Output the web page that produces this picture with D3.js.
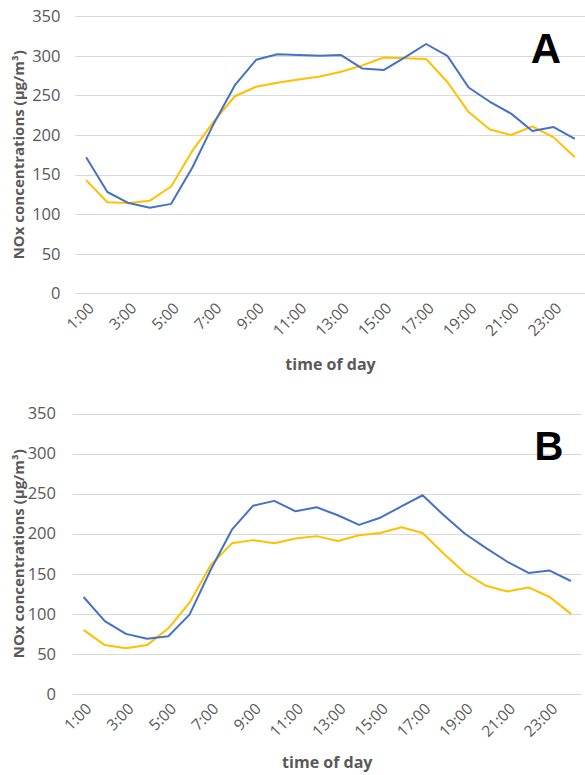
<!DOCTYPE html>
<html lang="en">
<head>
    <meta charset="UTF-8">
    <title>NOx diurnal profiles</title>
    <script src="https://d3js.org/d3.v7.min.js"></script>
    <style>
        body { margin: 0; padding: 0; background: #fff; }
        svg { display: block; }
        .tick-label { font-family: "Open Sans", sans-serif; fill: #595959; }
        .axis-title { font-family: "Open Sans", sans-serif; font-weight: bold; fill: #595959; font-size: 15px; }
        .panel-letter { font-family: "Liberation Sans", Arial, sans-serif; font-weight: bold; fill: #000; }
    </style>
</head>
<body>
<svg id="chart" width="585" height="775"></svg>
<script>
    // hours of the day (categories)
    const hours = ["1:00","2:00","3:00","4:00","5:00","6:00","7:00","8:00","9:00","10:00","11:00","12:00",
                   "13:00","14:00","15:00","16:00","17:00","18:00","19:00","20:00","21:00","22:00","23:00","24:00"];
    // only every other hour gets a label
    const hourLabels = ["1:00","3:00","5:00","7:00","9:00","11:00","13:00","15:00","17:00","19:00","21:00","23:00"];
    const yTicks = [0, 50, 100, 150, 200, 250, 300, 350];

    const blueA   = [172,128,114,108,113,159,214,263,295,302,301,300,301,284,282,298,315,300,260,242,227,205,210,195];
    const yellowA = [143,115,114,117,135,180,217,249,261,266,270,274,280,288,298,297,296,267,229,207,200,211,197,172];

    const blueB   = [121,91,75,69,72,99,155,205,235,241,228,233,223,211,220,234,248,223,200,182,165,151,154,141];
    const yellowB = [80,61,57,61,82,114,161,188,192,188,194,197,191,198,201,208,201,175,151,135,128,133,121,100];

    const svg = d3.select("#chart");

    const panels = [
        { letter: "A", blue: blueA, yellow: yellowA, left: 75.5, right: 585.5, top: 16.3, bottom: 293.3,
          labelGap: 15, letterX: 546, letterY: 63, letterSize: 42, xTitleY: 370 },
        { letter: "B", blue: blueB, yellow: yellowB, left: 73, right: 581.5, top: 413.5, bottom: 694,
          labelGap: 17, letterX: 549, letterY: 460, letterSize: 40, xTitleY: 768 }
    ];

    panels.forEach(function(p) {
        const x = d3.scalePoint()
            .domain(hours)
            .range([p.left, p.right])
            .padding(0.5);

        const y = d3.scaleLinear()
            .domain([0, 350])
            .range([p.bottom, p.top]);

        const g = svg.append("g");

        // gridlines
        g.selectAll(".grid")
            .data(yTicks)
            .enter()
            .append("line")
            .attr("x1", p.left)
            .attr("x2", p.right)
            .attr("y1", d => Math.round(y(d)) + 0.5)
            .attr("y2", d => Math.round(y(d)) + 0.5)
            .attr("stroke", "#d9d9d9")
            .attr("stroke-width", 1);

        // y tick labels
        g.selectAll(".ylab")
            .data(yTicks)
            .enter()
            .append("text")
            .attr("class", "tick-label")
            .attr("x", p.left - p.labelGap)
            .attr("y", d => y(d))
            .attr("dy", "0.35em")
            .attr("text-anchor", "end")
            .style("font-size", "16.5px")
            .text(d => d);

        // x tick labels, rotated
        g.selectAll(".xlab")
            .data(hourLabels)
            .enter()
            .append("text")
            .attr("class", "tick-label")
            .attr("text-anchor", "end")
            .attr("transform", d => `translate(${x(d) + 5},${p.bottom + 12}) rotate(-45)`)
            .attr("dy", "0.35em")
            .style("font-size", "15.5px")
            .text(d => d);

        const line = d3.line()
            .x((d, i) => x(hours[i]))
            .y(d => y(d));

        g.append("path")
            .datum(p.yellow)
            .attr("fill", "none")
            .attr("stroke", "#FFC000")
            .attr("stroke-width", 2)
            .attr("stroke-linejoin", "round")
            .attr("d", line);

        g.append("path")
            .datum(p.blue)
            .attr("fill", "none")
            .attr("stroke", "#4472C4")
            .attr("stroke-width", 2)
            .attr("stroke-linejoin", "round")
            .attr("d", line);

        // axis titles
        g.append("text")
            .attr("class", "axis-title")
            .attr("text-anchor", "middle")
            .attr("transform", `translate(24,${(p.top + p.bottom) / 2}) rotate(-90)`)
            .text("NOx concentrations (μg/m³)");

        g.append("text")
            .attr("class", "axis-title")
            .attr("text-anchor", "middle")
            .attr("x", (p.left + p.right) / 2)
            .attr("y", p.xTitleY)
            .style("font-size", "16px")
            .text("time of day");

        g.append("text")
            .attr("class", "panel-letter")
            .attr("text-anchor", "middle")
            .attr("x", p.letterX)
            .attr("y", p.letterY)
            .style("font-size", p.letterSize + "px")
            .text(p.letter);
    });
</script>
</body>
</html>
